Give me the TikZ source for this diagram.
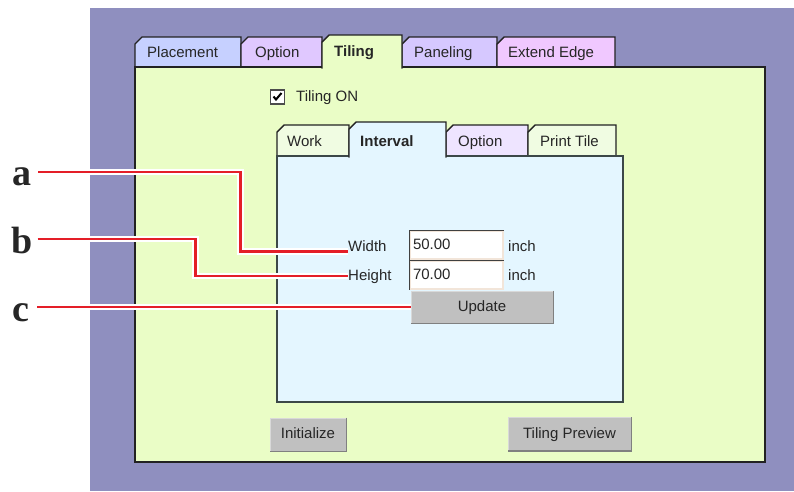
\documentclass[tikz,border=0pt]{standalone}
\usepackage{fontspec}
\setmainfont{Liberation Serif}
\setsansfont{Liberation Sans}
\definecolor{bgpurple}{RGB}{143,143,191}
\definecolor{panelgreen}{RGB}{234,253,198}
\definecolor{innerblue}{RGB}{228,246,255}
\definecolor{tabblue}{RGB}{198,208,255}
\definecolor{tablav}{RGB}{224,200,255}
\definecolor{tabpanel}{RGB}{214,200,255}
\definecolor{tabpink}{RGB}{240,200,255}
\definecolor{tablightgreen}{RGB}{240,252,226}
\definecolor{tabpalelav}{RGB}{238,228,255}
\definecolor{btngray}{RGB}{192,192,192}
\definecolor{leadred}{RGB}{228,30,40}
\definecolor{edge}{RGB}{34,34,34}
\definecolor{inneredge}{RGB}{60,72,72}
\newcommand\uitab[5]{%
  \filldraw[tabline, fill=#5] (#1,#4) -- (#1,#2+7) -- (#1+7,#2) -- (#3,#2) -- (#3,#4);%
}
\begin{document}
\begin{tikzpicture}[x=1pt,y=-1pt,
  tabline/.style={draw=edge, line width=1.4pt, line join=miter},
  ui/.style={font=\sffamily\fontsize{15}{18}\selectfont, inner sep=0pt, text=black!85, text height=11pt, text depth=3pt},
  uibold/.style={ui, font=\sffamily\bfseries\fontsize{15}{18}\selectfont},
  lbl/.style={font=\bfseries\fontsize{38}{40}\selectfont, inner sep=0pt, text=black!85},
  btn/.style={ui, fill=btngray, draw=white!85!black, line width=1pt},
  btnshade/.style={draw=black!50, line width=1.2pt},
  field/.style={ui, fill=white, draw=white!80!brown, line width=1.4pt, minimum height=28pt, text width=87pt, align=left, inner xsep=3pt},
  fieldshade/.style={draw=black!75, line width=1.4pt},
  halo/.style={draw=white, line width=6.5pt},
  leader/.style={draw=leadred, line width=2.2pt}
]
\useasboundingbox (0,0) rectangle (794,491);
\fill[white] (0,0) rectangle (794,491);
\fill[bgpurple] (90,8) rectangle (794,491);

% outer inactive tabs
\uitab{135}{37}{241}{67}{tabblue}
\uitab{241}{37}{322}{67}{tablav}
\uitab{402}{37}{497}{67}{tabpanel}
\uitab{497}{37}{615}{67}{tabpink}
% main panel
\filldraw[tabline, fill=panelgreen] (135,67) rectangle (765,462);
% active tab
\uitab{322}{35}{402}{68.6}{panelgreen}
\node[ui, anchor=west] (tplace) at (147,53) {Placement};
\node[ui, anchor=west] (topt) at (255,53) {Option};
\node[uibold, anchor=west] (ttile) at (334,52) {Tiling};
\node[ui, anchor=west] (tpanel) at (414,53) {Paneling};
\node[ui, anchor=west] (text) at (508,53) {Extend Edge};

% checkbox
\node[fill=white, draw=black!70, line width=1.2pt, minimum size=14pt, inner sep=0pt] (chk) at (277.5,97) {};
\draw[line width=2pt, black] (chk.center) ++(-4,-0.5) -- ++(2.5,3) -- ++(5.5,-6.5);
\node[ui, anchor=west] (tilon) at (296,97) {Tiling ON};

% inner tabs
\uitab{277}{125}{349}{156}{tablightgreen}
\uitab{446}{125}{528}{156}{tabpalelav}
\uitab{528}{125}{616}{156}{tablightgreen}
\filldraw[tabline, draw=inneredge, fill=innerblue] (277,156) rectangle (623,402);
\uitab{349}{122}{446}{157.6}{innerblue}
\node[ui, anchor=west] (iwork) at (287,142) {Work};
\node[uibold, anchor=west] (iint) at (360,142) {Interval};
\node[ui, anchor=west] (iopt) at (458,142) {Option};
\node[ui, anchor=west] (iprint) at (540,142) {Print Tile};

% fields
\node[ui, anchor=base west] (wlab) at (348,251.5) {Width};
\node[ui, anchor=base west] (hlab) at (348,280) {Height};
\node[field] (wfield) at (456.5,245) {50.00};
\draw[fieldshade] (wfield.south west) -- (wfield.north west) -- (wfield.north east);
\node[field] (hfield) at (456.5,275) {70.00};
\draw[fieldshade] (hfield.south west) -- (hfield.north west) -- (hfield.north east);
\node[ui, anchor=base west] (winch) at (508,251.5) {inch};
\node[ui, anchor=base west] (hinch) at (508,280) {inch};
\node[btn, minimum width=142pt, minimum height=32pt] (upd) at (482,307) {Update};
\draw[btnshade] (upd.north east) -- (upd.south east) -- (upd.south west);

% bottom buttons
\node[btn, minimum width=76pt, minimum height=33pt] (init) at (308,434.5) {Initialize};
\draw[btnshade] (init.north east) -- (init.south east) -- (init.south west);
\node[btn, minimum width=123pt, minimum height=33pt] (prev) at (569.5,434) {Tiling Preview};
\draw[btnshade] (prev.north east) -- (prev.south east) -- (prev.south west);

% callout labels
\node[lbl, anchor=base west] (la) at (12,185) {a};
\node[lbl, anchor=base west] (lb) at (11,253) {b};
\node[lbl, anchor=base west] (lc) at (12,321) {c};

% leader lines
\foreach \s in {halo,leader}{
  \draw[\s] ([shift={(7pt,13pt)}]la.base east) -- ++(202,0) |- (wlab.base west);
  \draw[\s] ([shift={(5pt,14pt)}]lb.base east) -- ++(158,0) |- (hlab.west);
  \draw[\s] ([shift={(8pt,14pt)}]lc.base east) -- (upd.west);
}
\end{tikzpicture}
\end{document}
